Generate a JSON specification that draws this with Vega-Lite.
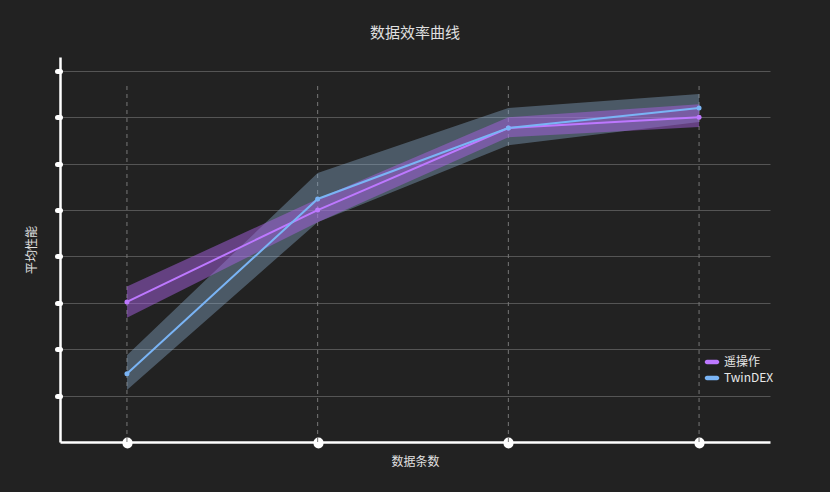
{
  "$schema": "https://vega.github.io/schema/vega-lite/v6.json",
  "autosize": "none",
  "width": 710,
  "height": 385,
  "padding": {"left": 60, "top": 57, "right": 60, "bottom": 50},
  "background": "#222222",
  "title": {
    "text": "数据效率曲线",
    "font": "Noto Sans CJK SC",
    "fontSize": 15,
    "fontWeight": "normal",
    "color": "#e0e0e0",
    "offset": 16
  },
  "config": {
    "view": {"stroke": null},
    "axis": {
      "labels": false,
      "domainColor": "#ffffff",
      "domainWidth": 2.5,
      "tickColor": "#ffffff",
      "tickCap": "round",
      "titleFont": "Noto Sans CJK SC",
      "titleFontWeight": "normal",
      "titleFontSize": 12,
      "titleColor": "#e0e0e0"
    }
  },
  "datasets": {
    "curves": [
      {"step": 0, "method": "遥操作", "mean": 3.02, "lo": 2.68, "hi": 3.35},
      {"step": 1, "method": "遥操作", "mean": 5.0, "lo": 4.74, "hi": 5.24},
      {"step": 2, "method": "遥操作", "mean": 6.77, "lo": 6.57, "hi": 7.0},
      {"step": 3, "method": "遥操作", "mean": 7.0, "lo": 6.79, "hi": 7.28},
      {"step": 0, "method": "TwinDEX", "mean": 1.47, "lo": 1.12, "hi": 1.87},
      {"step": 1, "method": "TwinDEX", "mean": 5.24, "lo": 4.74, "hi": 5.8},
      {"step": 2, "method": "TwinDEX", "mean": 6.77, "lo": 6.4, "hi": 7.2},
      {"step": 3, "method": "TwinDEX", "mean": 7.2, "lo": 6.9, "hi": 7.5}
    ],
    "steps": [
      {"step": 0, "bottom": 0, "top": 7.7},
      {"step": 1, "bottom": 0, "top": 7.7},
      {"step": 2, "bottom": 0, "top": 7.7},
      {"step": 3, "bottom": 0, "top": 7.7}
    ]
  },
  "data": {"name": "curves"},
  "encoding": {
    "x": {
      "field": "step",
      "type": "quantitative",
      "scale": {"domain": [-0.351, 3.372], "nice": false, "zero": false},
      "axis": {
        "values": [0, 1, 2, 3],
        "grid": false,
        "tickSize": 1,
        "tickWidth": 10,
        "title": "数据条数",
        "titlePadding": 8
      }
    }
  },
  "layer": [
    {
      "data": {"name": "steps"},
      "mark": {"type": "rule", "color": "#777777", "strokeWidth": 1, "strokeDash": [4, 4]},
      "encoding": {
        "y": {
          "field": "bottom",
          "type": "quantitative",
          "scale": {"domain": [0, 8.3], "nice": false},
          "axis": {
            "values": [1, 2, 3, 4, 5, 6, 7, 8],
            "grid": true,
            "gridColor": "#555555",
            "gridWidth": 1,
            "tickSize": 3,
            "tickWidth": 5,
            "title": "平均性能",
            "titlePadding": 16
          }
        },
        "y2": {"field": "top"}
      }
    },
    {
      "transform": [{"filter": "datum.method == 'TwinDEX'"}],
      "mark": {"type": "area", "color": "#8aaccc", "opacity": 0.4},
      "encoding": {
        "y": {"field": "lo", "type": "quantitative"},
        "y2": {"field": "hi"}
      }
    },
    {
      "transform": [{"filter": "datum.method == '遥操作'"}],
      "mark": {"type": "area", "color": "#a55fe0", "opacity": 0.5},
      "encoding": {
        "y": {"field": "lo", "type": "quantitative"},
        "y2": {"field": "hi"}
      }
    },
    {
      "mark": {"type": "line", "strokeWidth": 2},
      "encoding": {
        "y": {"field": "mean", "type": "quantitative"},
        "color": {
          "field": "method",
          "type": "nominal",
          "sort": ["遥操作", "TwinDEX"],
          "scale": {"domain": ["遥操作", "TwinDEX"], "range": ["#bd78ff", "#7ab4f5"]},
          "legend": {
            "orient": "none",
            "legendX": 646,
            "legendY": 299,
            "title": null,
            "symbolType": "M-1,-0.45H1A0.45,0.45 0 0 1 1,0.45H-1A0.45,0.45 0 0 1 -1,-0.45Z",
            "symbolStrokeWidth": 0,
            "symbolSize": 100,
            "symbolOpacity": 1,
            "labelFont": "Noto Sans CJK SC",
            "labelFontSize": 12,
            "labelColor": "#e8e8e8",
            "labelOffset": 6,
            "rowPadding": 4
          }
        }
      }
    },
    {
      "mark": {"type": "point", "filled": true, "size": 25, "opacity": 1},
      "encoding": {
        "y": {"field": "mean", "type": "quantitative"},
        "color": {"field": "method", "type": "nominal"}
      }
    }
  ]
}
